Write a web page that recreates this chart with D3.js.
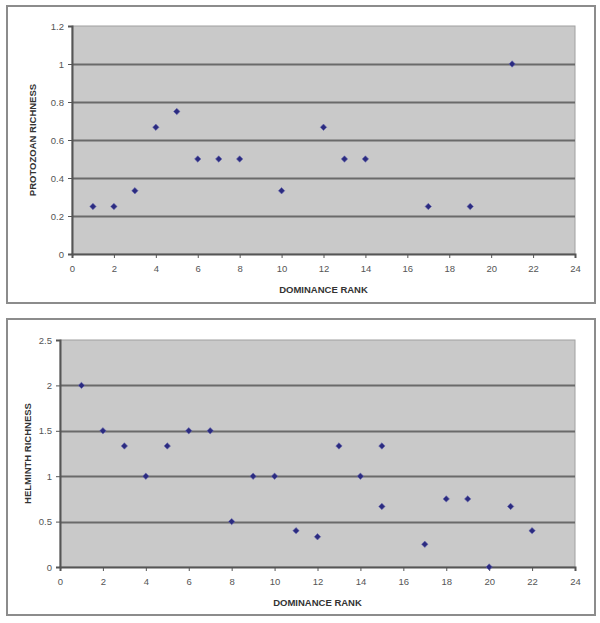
<!DOCTYPE html>
<html><head><meta charset="utf-8">
<script src="https://cdn.jsdelivr.net/npm/d3@7"></script>
<style>body{margin:0;background:#fff}svg{display:block}</style>
</head><body>
<svg id="c" width="600" height="623"></svg>
<script>
// Data
const protoRank = [1, 2, 3, 4, 5, 6, 7, 8, 10, 12, 13, 14, 17, 19, 21];
const protoRichness = [0.25, 0.25, 0.333, 0.667, 0.75, 0.5, 0.5, 0.5, 0.333, 0.667, 0.5, 0.5, 0.25, 0.25, 1];
const helmRank = [1, 2, 3, 4, 5, 6, 7, 8, 9, 10, 11, 12, 13, 14, 15, 15, 17, 18, 19, 20, 21, 22];
const helmRichness = [2, 1.5, 1.333, 1, 1.333, 1.5, 1.5, 0.5, 1, 1, 0.4, 0.333, 1.333, 1, 1.333, 0.667, 0.25, 0.75, 0.75, 0, 0.667, 0.4];
const xTicks = [0, 2, 4, 6, 8, 10, 12, 14, 16, 18, 20, 22, 24];
const protoYTicks = [0, 0.2, 0.4, 0.6, 0.8, 1, 1.2];
const helmYTicks = [0, 0.5, 1, 1.5, 2, 2.5];
const xTitle = "DOMINANCE RANK";

const svg = d3.select("#c");
const font = "'Liberation Sans', Arial, sans-serif";

function chart(cfg) {
  const g = svg.append("g");
  g.append("rect").attr("x", cfg.frame[0]).attr("y", cfg.frame[1])
    .attr("width", cfg.frame[2]).attr("height", cfg.frame[3])
    .attr("fill", "#fff").attr("stroke", "#8c8c8c").attr("stroke-width", 2);
  const x = d3.scaleLinear().domain([0, 24]).range([cfg.left, cfg.right]);
  const y = d3.scaleLinear().domain([0, cfg.ymax]).range([cfg.bottom, cfg.top]);
  g.append("rect").attr("x", cfg.left).attr("y", cfg.top)
    .attr("width", cfg.right - cfg.left).attr("height", cfg.bottom - cfg.top)
    .attr("fill", "#c9c9c9").attr("stroke", "#a0a0a0").attr("stroke-width", 1);
  g.append("g").selectAll("line").data(cfg.yTicks.filter(d => d > 0 && d < cfg.ymax)).join("line")
    .attr("x1", cfg.left).attr("x2", cfg.right)
    .attr("y1", d => Math.round(y(d)) + 0.5).attr("y2", d => Math.round(y(d)) + 0.5)
    .attr("stroke", "#6a6a6a").attr("stroke-width", 2);
  const ya = g.append("g").attr("transform", `translate(${cfg.left},0)`)
    .call(d3.axisLeft(y).tickValues(cfg.yTicks).tickSize(4).tickPadding(4).tickFormat(d3.format("~g")));
  ya.select(".domain").attr("stroke", "#555").attr("stroke-width", 2);
  ya.selectAll(".tick line").attr("stroke", "#555");
  ya.selectAll("text").attr("fill", "#555").style("font-family", font).style("font-size", "9.5px");
  const xa = g.append("g").attr("transform", `translate(0,${cfg.bottom})`)
    .call(d3.axisBottom(x).tickValues(xTicks).tickSize(4).tickPadding(7));
  xa.select(".domain").attr("stroke", "#555").attr("stroke-width", 2);
  xa.selectAll(".tick line").attr("stroke", "#555");
  xa.selectAll("text").attr("fill", "#555").style("font-family", font).style("font-size", "9.5px");
  g.append("text").attr("x", (cfg.left + cfg.right) / 2).attr("y", cfg.xTitleY)
    .attr("text-anchor", "middle").attr("fill", "#333").style("font-family", font)
    .style("font-size", "9.5px").style("font-weight", "bold").text(xTitle);
  g.append("text").attr("transform", `translate(${cfg.yTitleX},${(cfg.top + cfg.bottom) / 2}) rotate(-90)`)
    .attr("text-anchor", "middle").attr("fill", "#333").style("font-family", font)
    .style("font-size", "9.5px").style("font-weight", "bold").text(cfg.yTitle);
  const sym = d3.symbol().type(d3.symbolDiamond2).size(26);
  g.append("g").selectAll("path").data(cfg.xs.map((v, i) => [v, cfg.ys[i]])).join("path")
    .attr("d", sym).attr("transform", d => `translate(${x(d[0])},${y(d[1])})`)
    .attr("fill", "#2b2b80").attr("stroke", "#6a6ab0").attr("stroke-width", 0.6);
}

chart({frame: [7, 6, 588, 297], left: 72, right: 575, top: 26, bottom: 254, ymax: 1.2,
  yTicks: protoYTicks, xs: protoRank, ys: protoRichness, yTitle: "PROTOZOAN RICHNESS",
  xTitleY: 293, yTitleX: 36});
chart({frame: [7, 319, 588, 296], left: 60, right: 575, top: 340, bottom: 567, ymax: 2.5,
  yTicks: helmYTicks, xs: helmRank, ys: helmRichness, yTitle: "HELMINTH RICHNESS",
  xTitleY: 606, yTitleX: 31});
</script>
</body></html>
